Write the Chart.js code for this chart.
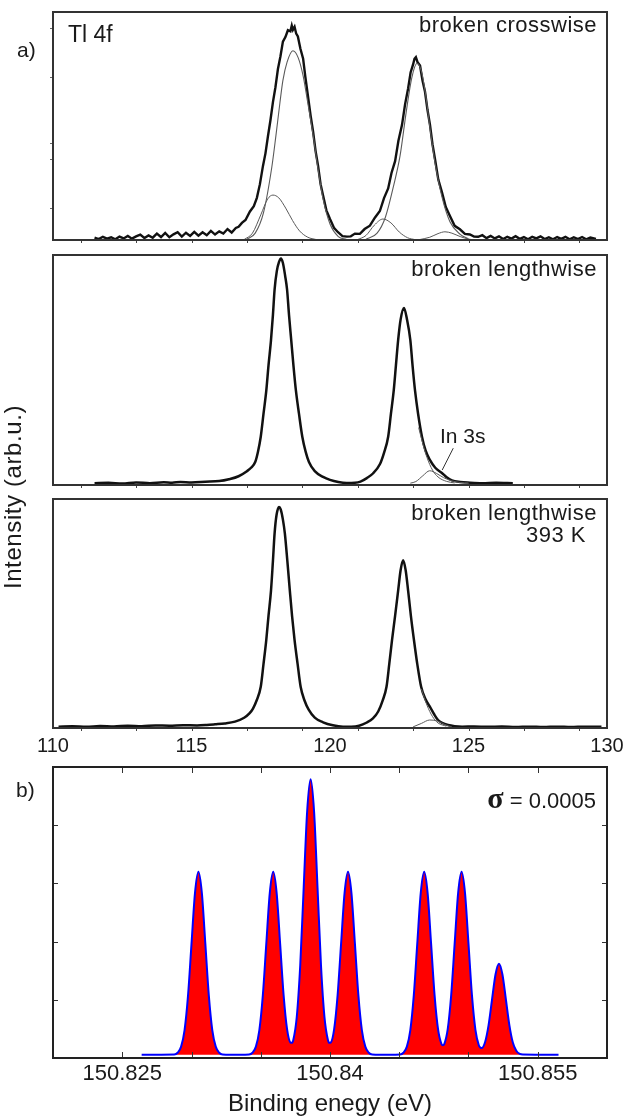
<!DOCTYPE html>
<html><head><meta charset="utf-8">
<script src="https://cdn.jsdelivr.net/npm/chart.js@4.4.1/dist/chart.umd.min.js"></script>
<style>
html,body{margin:0;padding:0;background:#fff;}
body{width:625px;height:1119px;position:relative;overflow:hidden;font-family:'Liberation Sans',Arial,sans-serif;color:#1a1a1a;}
canvas{position:absolute;left:0;}
.t{position:absolute;line-height:1;white-space:nowrap;z-index:5;}
</style></head><body>
<canvas id="c1" width="625" height="250" style="top:0px"></canvas>
<canvas id="c2" width="625" height="242" style="top:250px"></canvas>
<canvas id="c3" width="660" height="270" style="top:492px"></canvas>
<canvas id="c4" width="625" height="357" style="top:762px"></canvas>

<div class="t" style="left:17px;top:39px;font-size:21px">a)</div>
<div class="t" style="left:16px;top:779px;font-size:21px">b)</div>
<div class="t" style="left:68px;top:23px;font-size:23px">Tl 4f</div>
<div class="t" style="right:28px;top:14px;font-size:22px;letter-spacing:0.5px">broken crosswise</div>
<div class="t" style="right:28px;top:258px;font-size:22px;letter-spacing:0.5px">broken lengthwise</div>
<div class="t" style="right:28px;top:502px;font-size:22px;letter-spacing:0.5px">broken lengthwise</div>
<div class="t" style="right:39px;top:524px;font-size:22px;letter-spacing:0.5px">393 K</div>
<div class="t" style="left:440px;top:425px;font-size:21px">In 3s</div>
<div class="t" style="right:29px;top:783px;font-size:22px"><span style="font-family:'Liberation Serif',serif;font-weight:bold;font-size:30px">σ</span> = 0.0005</div>
<div class="t" style="left:13px;top:497px;font-size:24px;letter-spacing:0.6px;transform:translate(-50%,-50%) rotate(-90deg)">Intensity (arb.u.)</div>

<script>
// ---------- Data ----------
// Panel a) binding energy axis (eV)
const aTickLabelValues = [110, 115, 120, 125, 130];
const aTickMarkValues = [111, 113, 115, 117, 119, 121, 123, 125, 127, 129];
const p1YTickValues = [0.14, 0.355, 0.425, 0.715, 0.93];

// Panel 1: broken crosswise (measured + fit components) [eV, normalized intensity]
const p1Measured = [[111.5,0.010],[111.65,0.004],[111.8,0.014],[111.95,0.006],[112.1,0.012],[112.25,0.003],[112.4,0.015],[112.55,0.007],[112.7,0.018],[112.85,0.006],[113.0,0.016],[113.15,0.024],[113.3,0.009],[113.45,0.02],[113.6,0.01],[113.75,0.028],[113.9,0.013],[114.05,0.031],[114.2,0.012],[114.35,0.025],[114.5,0.034],[114.65,0.015],[114.8,0.032],[114.95,0.018],[115.1,0.036],[115.25,0.019],[115.4,0.034],[115.55,0.021],[115.7,0.04],[115.85,0.024],[116.0,0.038],[116.15,0.028],[116.3,0.048],[116.45,0.033],[116.6,0.053],[116.7,0.058],[116.82,0.075],[116.95,0.088],[117.11,0.125],[117.25,0.148],[117.36,0.185],[117.47,0.245],[117.58,0.325],[117.67,0.38],[117.76,0.455],[117.85,0.525],[117.94,0.605],[118.03,0.67],[118.12,0.75],[118.21,0.805],[118.3,0.87],[118.39,0.89],[118.48,0.92],[118.57,0.915],[118.62,0.94],[118.66,0.922],[118.72,0.935],[118.78,0.905],[118.84,0.893],[118.93,0.84],[119.03,0.795],[119.11,0.715],[119.2,0.635],[119.3,0.545],[119.39,0.475],[119.48,0.39],[119.57,0.325],[119.66,0.245],[119.75,0.195],[119.87,0.13],[120.0,0.092],[120.15,0.052],[120.29,0.034],[120.45,0.017],[120.61,0.015],[120.75,0.016],[120.9,0.028],[121.08,0.027],[121.25,0.048],[121.44,0.063],[121.62,0.098],[121.8,0.127],[121.95,0.184],[122.1,0.226],[122.22,0.294],[122.35,0.346],[122.47,0.435],[122.6,0.505],[122.71,0.595],[122.82,0.665],[122.91,0.735],[123.0,0.77],[123.05,0.795],[123.1,0.802],[123.16,0.78],[123.25,0.765],[123.34,0.7],[123.43,0.65],[123.52,0.57],[123.61,0.505],[123.7,0.42],[123.79,0.355],[123.91,0.265],[124.04,0.21],[124.18,0.145],[124.33,0.105],[124.5,0.062],[124.69,0.047],[124.87,0.027],[125.05,0.024],[125.2,0.015],[125.35,0.014],[125.5,0.021],[125.65,0.008],[125.8,0.018],[125.95,0.007],[126.1,0.016],[126.25,0.004],[126.4,0.014],[126.55,0.006],[126.7,0.017],[126.85,0.005],[127.0,0.013],[127.15,0.003],[127.3,0.014],[127.45,0.007],[127.6,0.016],[127.75,0.004],[127.9,0.012],[128.05,0.003],[128.2,0.013],[128.35,0.005],[128.5,0.014],[128.65,0.003],[128.8,0.012],[128.95,0.004],[129.1,0.013],[129.25,0.003],[129.4,0.011],[129.6,0.005]];
const p1CompA = [[117.0,0.003],[117.3,0.03],[117.6,0.12],[117.9,0.32],[118.05,0.46],[118.19,0.6],[118.3,0.7],[118.45,0.78],[118.66,0.83],[118.85,0.8],[119.03,0.72],[119.2,0.6],[119.39,0.46],[119.57,0.31],[119.75,0.18],[120.0,0.07],[120.3,0.015],[120.6,0.002]];
const p1CompB = [[116.9,0.002],[117.2,0.03],[117.5,0.11],[117.75,0.18],[117.94,0.197],[118.15,0.185],[118.4,0.14],[118.65,0.085],[118.9,0.04],[119.2,0.012],[119.5,0.002]];
const p1CompC = [[121.3,0.003],[121.7,0.03],[122.0,0.1],[122.3,0.24],[122.53,0.37],[122.75,0.56],[122.95,0.71],[123.14,0.775],[123.3,0.74],[123.45,0.64],[123.61,0.49],[123.79,0.34],[124.04,0.19],[124.33,0.08],[124.7,0.025],[125.0,0.005]];
const p1CompD = [[121.0,0.002],[121.3,0.02],[121.6,0.065],[121.91,0.092],[122.2,0.075],[122.5,0.035],[122.8,0.01],[123.1,0.001]];
const p1CompE = [[123.2,0.001],[123.6,0.012],[123.9,0.028],[124.15,0.036],[124.4,0.03],[124.7,0.015],[125.0,0.004],[125.2,0.001]];

// Panel 2: broken lengthwise
const p2Measured = [[111.5,0.008],[112.0,0.01],[112.5,0.006],[113.0,0.011],[113.5,0.008],[114.0,0.012],[114.3,0.01],[114.6,0.013],[115.0,0.011],[115.5,0.014],[116.0,0.017],[116.35,0.025],[116.7,0.038],[117.0,0.06],[117.15,0.075],[117.3,0.1],[117.4,0.145],[117.5,0.21],[117.6,0.31],[117.7,0.41],[117.78,0.52],[117.87,0.63],[117.94,0.74],[118.0,0.85],[118.08,0.93],[118.16,0.97],[118.23,0.985],[118.3,0.965],[118.38,0.91],[118.45,0.85],[118.52,0.74],[118.6,0.63],[118.68,0.52],[118.77,0.41],[118.88,0.31],[119.0,0.21],[119.12,0.145],[119.24,0.1],[119.45,0.06],[119.75,0.035],[120.0,0.022],[120.3,0.013],[120.6,0.009],[120.9,0.01],[121.1,0.015],[121.33,0.03],[121.55,0.05],[121.8,0.09],[121.95,0.14],[122.1,0.21],[122.2,0.31],[122.3,0.41],[122.38,0.52],[122.46,0.63],[122.55,0.72],[122.67,0.77],[122.78,0.72],[122.9,0.63],[122.98,0.52],[123.07,0.41],[123.18,0.31],[123.32,0.21],[123.45,0.15],[123.6,0.11],[123.8,0.075],[124.04,0.052],[124.2,0.035],[124.4,0.02],[124.7,0.013],[125.05,0.01],[125.5,0.008],[126.0,0.01],[126.6,0.008]];
const p2TlTail = [[123.2,0.25],[123.35,0.18],[123.5,0.12],[123.7,0.065],[123.9,0.035],[124.2,0.016],[124.5,0.009]];
const p2In3s = [[122.9,0.008],[123.1,0.015],[123.35,0.04],[123.6,0.062],[123.85,0.05],[124.1,0.032],[124.4,0.018],[124.7,0.011],[125.0,0.009]];
const p2Pointer = [[124.45,0.16],[124.05,0.065]];

// Panel 3: broken lengthwise, 393 K
const p3Measured = [[110.2,0.006],[110.7,0.008],[111.2,0.005],[111.7,0.009],[112.2,0.007],[112.7,0.01],[113.2,0.008],[113.7,0.011],[114.2,0.01],[114.7,0.012],[115.2,0.011],[115.55,0.013],[115.85,0.016],[116.2,0.02],[116.57,0.028],[116.9,0.045],[117.1,0.065],[117.22,0.085],[117.35,0.12],[117.5,0.18],[117.6,0.28],[117.7,0.385],[117.78,0.49],[117.87,0.6],[117.94,0.73],[118.0,0.85],[118.07,0.93],[118.16,0.965],[118.22,0.955],[118.3,0.91],[118.37,0.85],[118.46,0.73],[118.55,0.6],[118.63,0.49],[118.72,0.385],[118.83,0.28],[118.94,0.18],[119.08,0.12],[119.23,0.08],[119.45,0.045],[119.75,0.025],[120.1,0.012],[120.47,0.006],[120.76,0.006],[121.05,0.01],[121.33,0.024],[121.55,0.042],[121.74,0.072],[121.9,0.12],[122.04,0.18],[122.14,0.28],[122.24,0.385],[122.35,0.49],[122.46,0.6],[122.55,0.69],[122.64,0.733],[122.73,0.69],[122.82,0.6],[122.92,0.49],[123.03,0.385],[123.15,0.28],[123.29,0.18],[123.45,0.125],[123.62,0.09],[123.76,0.06],[123.9,0.035],[124.05,0.022],[124.26,0.013],[124.5,0.008],[124.77,0.006],[125.2,0.007],[125.7,0.005],[126.2,0.007],[126.7,0.004],[127.2,0.006],[127.7,0.004],[128.2,0.006],[128.7,0.004],[129.2,0.006],[129.8,0.005]];
const p3TlTail = [[123.3,0.17],[123.5,0.1],[123.7,0.05],[123.9,0.022],[124.2,0.008]];
const p3In3s = [[123.0,0.005],[123.3,0.02],[123.6,0.035],[123.9,0.03],[124.15,0.015],[124.4,0.005]];

// Panel b) simulated spectrum, sigma = 0.0005
const bTickLabelValues = [150.825, 150.84, 150.855];
const bTickLabels = ['150.825', '150.84', '150.855'];
const bTickMarkValues = [150.825, 150.83, 150.835, 150.84, 150.845, 150.85, 150.855];
const bYTickValues = [0.2, 0.4, 0.6, 0.8];
const bBaseline = 0.011;
const bCurve = [[150.8264,0.011],
[150.82875,0.012],[150.829,0.018],[150.82925,0.039],[150.8295,0.096],[150.82975,0.215],[150.83,0.392],[150.83025,0.566],[150.8305,0.64],[150.83075,0.566],[150.831,0.392],[150.83125,0.215],[150.8315,0.096],[150.83175,0.039],[150.832,0.018],[150.83225,0.012],
[150.8335,0.011],
[150.83415,0.012],[150.8344,0.018],[150.83465,0.039],[150.8349,0.096],[150.83515,0.215],[150.8354,0.392],[150.83565,0.566],[150.8359,0.64],[150.83615,0.566],[150.8364,0.392],[150.83665,0.216],[150.8369,0.099],[150.83715,0.053],[150.83725,0.052],[150.83735,0.062],[150.8376,0.141],[150.83785,0.318],[150.8381,0.585],[150.83835,0.847],[150.8386,0.958],[150.83885,0.847],[150.8391,0.585],[150.83935,0.318],[150.8396,0.141],[150.83985,0.062],[150.83995,0.052],[150.84005,0.053],[150.8403,0.099],[150.84055,0.216],[150.8408,0.392],[150.84105,0.566],[150.8413,0.64],[150.84155,0.566],[150.8418,0.392],[150.84205,0.215],[150.8423,0.096],[150.84255,0.039],[150.8428,0.018],[150.84305,0.012],
[150.8443,0.011],
[150.84505,0.012],[150.8453,0.018],[150.84555,0.039],[150.8458,0.096],[150.84605,0.215],[150.8463,0.392],[150.84655,0.566],[150.8468,0.64],[150.84705,0.566],[150.8473,0.392],[150.84755,0.216],[150.8478,0.099],[150.84805,0.048],[150.84815,0.044],[150.84825,0.048],[150.8485,0.099],[150.84875,0.216],[150.849,0.392],[150.84925,0.566],[150.8495,0.64],[150.84975,0.566],[150.85,0.392],[150.85025,0.215],[150.8505,0.097],[150.85075,0.043],[150.85085,0.036],[150.85095,0.034],[150.8512,0.055],[150.85145,0.113],[150.8517,0.201],[150.85195,0.287],[150.8522,0.324],[150.85245,0.287],[150.8527,0.201],[150.85295,0.113],[150.8532,0.053],[150.85345,0.025],[150.8537,0.014],[150.85395,0.012],
[150.8565,0.011]];

// ---------- Rendering ----------
const FONT = "'Liberation Sans', Arial, sans-serif";
const xy = arr => arr.map(([x, y]) => ({x, y}));

const framePlugin = {
  id: 'frame',
  afterDatasetsDraw(chart, args, opts) {
    const {ctx, chartArea: a, scales} = chart;
    ctx.save();
    (opts.ticks || []).forEach(t => {
      const sc = scales[t.axis];
      ctx.strokeStyle = t.color; ctx.lineWidth = t.width;
      t.values.forEach(v => {
        const p = Math.round(sc.getPixelForValue(v)) + 0.5;
        t.sides.forEach(side => {
          ctx.beginPath();
          if (side === 'bottom') { ctx.moveTo(p, a.bottom); ctx.lineTo(p, a.bottom + t.len); }
          if (side === 'top') { ctx.moveTo(p, a.top); ctx.lineTo(p, a.top - t.len); }
          if (side === 'left') { ctx.moveTo(a.left, p); ctx.lineTo(a.left - t.len, p); }
          if (side === 'right') { ctx.moveTo(a.right, p); ctx.lineTo(a.right + t.len, p); }
          ctx.stroke();
        });
      });
    });
    ctx.strokeStyle = opts.color; ctx.lineWidth = opts.width;
    ctx.strokeRect(a.left, a.top, a.right - a.left, a.bottom - a.top);
    ctx.restore();
  }
};

function line(data, color, width, extra) {
  return Object.assign({data: xy(data), borderColor: color, borderWidth: width, pointRadius: 0,
    fill: false, cubicInterpolationMode: 'monotone', clip: 2}, extra || {});
}

function makeChart(id, datasets, cfg) {
  const xScale = {type: 'linear', min: cfg.xmin, max: cfg.xmax, display: !!cfg.xLabels,
    grid: {display: false, drawTicks: false}, border: {display: false}};
  if (cfg.xLabels) {
    Object.assign(xScale, {
      afterBuildTicks: s => { s.ticks = cfg.xLabels.map(v => ({value: v})); },
      afterFit: s => { s.height = cfg.axisH; },
      ticks: {autoSkip: false, maxRotation: 0, padding: cfg.tickPad, color: '#1a1a1a',
        font: {family: FONT, size: cfg.labelSize},
        callback: (v, i) => cfg.xLabelText ? cfg.xLabelText[i] : String(v)},
      title: cfg.title ? {display: true, text: cfg.title, color: '#1a1a1a',
        font: {family: FONT, size: 24}, padding: {top: 0, bottom: 0}} : {display: false}
    });
  }
  return new Chart(document.getElementById(id), {
    type: 'line',
    data: {datasets},
    options: {
      responsive: false, animation: false, devicePixelRatio: 1,
      layout: {autoPadding: false, padding: {left: 53, right: cfg.padRight || 18, top: cfg.padTop, bottom: cfg.padBottom}},
      scales: {x: xScale, y: {type: 'linear', min: 0, max: 1, display: false}},
      plugins: {legend: {display: false}, tooltip: {enabled: false},
        frame: {color: cfg.frameColor, width: cfg.frameWidth, ticks: cfg.ticks}}
    },
    plugins: [framePlugin]
  });
}

const thin = '#5a5a5a', thick = '#111';
const jag = {cubicInterpolationMode: 'default', tension: 0};

makeChart('c1', [
  line(p1CompB, thin, 1), line(p1CompD, thin, 1), line(p1CompE, thin, 1),
  line(p1CompA, thin, 1.1), line(p1CompC, thin, 1.1),
  line(p1Measured, thick, 2.4, jag)
], {xmin: 110, xmax: 130, padTop: 12, padBottom: 10, frameColor: '#333', frameWidth: 2,
  ticks: [{axis: 'x', values: aTickMarkValues, sides: ['bottom'], len: 3, color: '#444', width: 1},
          {axis: 'y', values: p1YTickValues, sides: ['left'], len: 3, color: '#666', width: 1}]});

makeChart('c2', [
  line(p2In3s, thin, 1), line(p2TlTail, thin, 1), line(p2Pointer, '#333', 1, jag),
  line(p2Measured, thick, 2.5)
], {xmin: 110, xmax: 130, padTop: 5, padBottom: 7, frameColor: '#333', frameWidth: 2,
  ticks: [{axis: 'x', values: aTickMarkValues, sides: ['bottom'], len: 3, color: '#444', width: 1}]});

makeChart('c3', [
  line(p3In3s, thin, 1), line(p3TlTail, thin, 1),
  line(p3Measured, thick, 2.5)
], {xmin: 110, xmax: 130, padTop: 7, padBottom: 0, padRight: 53, frameColor: '#333', frameWidth: 2,
  xLabels: aTickLabelValues, axisH: 34, tickPad: 6, labelSize: 20,
  ticks: [{axis: 'x', values: aTickMarkValues, sides: ['bottom'], len: 3, color: '#444', width: 1}]});

makeChart('c4', [
  line(bCurve, '#0000ff', 2, {fill: {value: bBaseline}, backgroundColor: '#ff0000'})
], {xmin: 150.82, xmax: 150.86, padTop: 5, padBottom: 0, frameColor: '#222', frameWidth: 2,
  xLabels: bTickLabelValues, xLabelText: bTickLabels, axisH: 61, tickPad: 3, labelSize: 22,
  title: 'Binding enegy (eV)',
  ticks: [{axis: 'x', values: bTickMarkValues, sides: ['bottom', 'top'], len: -6, color: '#333', width: 1},
          {axis: 'y', values: bYTickValues, sides: ['left', 'right'], len: -5, color: '#333', width: 1}]});
</script>
</body></html>
